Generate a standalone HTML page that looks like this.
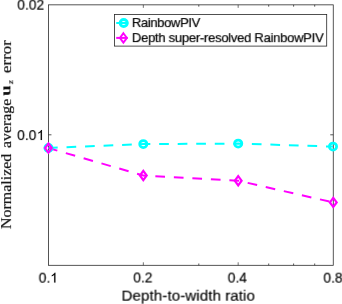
<!DOCTYPE html>
<html>
<head>
<meta charset="utf-8">
<style>
html,body{margin:0;padding:0;background:#fff;}
body{width:342px;height:304px;overflow:hidden;position:relative;font-family:"Liberation Sans",sans-serif;}
svg{position:absolute;left:0;top:0;}
.t{position:absolute;white-space:nowrap;color:#000;line-height:1;will-change:transform;-webkit-text-stroke:0.14px #000;}
.tick{font-size:13.8px;}
.leg{font-size:13.1px;color:#000;letter-spacing:-0.28px;-webkit-text-stroke:0.2px #000;}
.yl{font-family:"Liberation Serif",serif;font-size:15.2px;color:#111;transform-origin:0 0;-webkit-text-stroke:0.22px #111;}
</style>
</head>
<body>
<svg width="342" height="304" viewBox="0 0 342 304">
  <!-- axes box -->
  <g stroke="#262626" stroke-width="0.78" fill="none">
    <rect x="48.45" y="4.85" width="284.8" height="260.45"/>
    <!-- major x ticks bottom/top -->
    <path stroke-width="0.65" d="M143.33 265.3v-3M238.17 265.3v-3M143.33 4.85v3M238.17 4.85v3"/>
    <!-- minor x ticks -->
    <path d="M198.8 265.3v-1.8M268.7 265.3v-1.8M293.6 265.3v-1.8M314.7 265.3v-1.8M198.8 4.85v1.8M268.7 4.85v1.8M293.6 4.85v1.8M314.7 4.85v1.8"/>
    <!-- y ticks -->
    <path d="M48.45 134.8h3M333.25 134.8h-3"/>
  </g>
  <!-- data lines -->
  <g fill="none" stroke-width="2" stroke-dasharray="9.7 8.84" stroke-dashoffset="0.5">
    <polyline stroke="#00ffff" points="48.5,148 143.3,144.1 238.2,143.6 333,146.6"/>
    <polyline stroke="#ff00ff" points="48.5,148.1 143.3,175.5 238.2,180.7 333.2,202.4"/>
  </g>
  <!-- markers -->
  <g fill="none" stroke="#00ffff" stroke-width="2.75">
    <circle cx="48.5" cy="148" r="3.6"/>
    <circle cx="143.3" cy="144.1" r="3.6"/>
    <circle cx="238.2" cy="143.6" r="3.6"/>
    <circle cx="333" cy="146.6" r="3.6"/>
  </g>
  <g fill="none" stroke="#ff00ff" stroke-width="2.2" stroke-linejoin="miter">
    <path d="M48.4 143.5l3.4 4.6l-3.4 4.6l-3.4 -4.6z"/>
    <path d="M143.3 170.9l3.4 4.6l-3.4 4.6l-3.4 -4.6z"/>
    <path d="M238.2 176.1l3.4 4.6l-3.4 4.6l-3.4 -4.6z"/>
    <path d="M333.3 197.8l3.4 4.6l-3.4 4.6l-3.4 -4.6z"/>
  </g>
  <!-- legend -->
  <rect x="114.5" y="14.5" width="212.2" height="31.6" fill="#fff" stroke="#262626" stroke-width="0.8"/>
  <path d="M116.2 23h12" stroke="#00ffff" stroke-width="2"/>
  <circle cx="123.7" cy="23" r="3.55" fill="none" stroke="#00ffff" stroke-width="2.9"/>
  <path d="M116.2 37.9h11.5" stroke="#ff00ff" stroke-width="2"/>
  <path d="M123.4 33.2l3.5 4.7l-3.5 4.7l-3.5 -4.7z" fill="none" stroke="#ff00ff" stroke-width="1.9"/>
  <!-- custom "1" glyphs (no foot) -->
  <g fill="#000" stroke="#000" stroke-width="18">
    <path transform="translate(36.77 140) scale(0.006738 -0.006738)" d="M763 0H583V1147Q518 1085 412.5 1023Q307 961 223 930V1104Q374 1175 487 1276Q600 1377 647 1472H763Z"/>
    <path transform="translate(50.27 282.6) scale(0.006738 -0.006738)" d="M763 0H583V1147Q518 1085 412.5 1023Q307 961 223 930V1104Q374 1175 487 1276Q600 1377 647 1472H763Z"/>
  </g>
</svg>

<div class="t leg" style="left:131px;top:16px;letter-spacing:-0.4px;transform:translate(0.8px,0.1px) rotate(0.02deg);">RainbowPIV</div>
<div class="t leg" style="left:131px;top:31px;letter-spacing:-0.3px;transform:translate(0.8px,0.15px) rotate(0.02deg);">Depth super-resolved RainbowPIV</div>

<div class="t tick" style="left:17px;top:-1px;transform:translate(0.3px,-0.3px) rotate(0.02deg);">0.02</div>
<div class="t tick" style="left:17px;top:129px;transform:translate(0.2px,0.1px) rotate(0.02deg);">0.0</div>
<div class="t tick" style="left:38px;top:271px;transform:translate(0.7px,0.7px) rotate(0.02deg);">0.</div>
<div class="t tick" style="left:132px;top:271px;transform:translate(1.3px,0.5px) rotate(0.02deg);">0.2</div>
<div class="t tick" style="left:227px;top:271px;transform:translate(0.7px,0.6px) rotate(0.02deg);">0.4</div>
<div class="t tick" style="left:322px;top:271px;transform:translate(1.4px,0.7px) rotate(0.02deg);">0.8</div>
<div class="t" style="left:121px;top:288px;font-size:15.2px;letter-spacing:0.05px;transform:translate(0.5px,-0.3px) rotate(0.02deg);">Depth-to-width ratio</div>

<div class="t yl" style="left:-1px;top:229.4px;transform:translateX(-0.9px) rotate(-90deg) scaleX(1.05);">Normalized</div>
<div class="t yl" style="left:-1px;top:147.8px;transform:translateX(-0.9px) rotate(-90deg) scaleX(1.04);">average</div>
<div class="t yl" style="left:-1px;top:96.1px;transform:translateX(-1.6px) rotate(-90deg) scaleX(1.28);font-weight:bold;-webkit-text-stroke:0;">u</div>
<div class="t yl" style="left:7.6px;top:83.5px;transform:translateX(-1.8px) rotate(-90deg) scaleX(1.1);font-style:italic;font-size:8.6px;">z</div>
<div class="t yl" style="left:-1px;top:73.2px;transform:translateX(-0.9px) rotate(-90deg) scaleX(1.108);">error</div>
</body>
</html>
